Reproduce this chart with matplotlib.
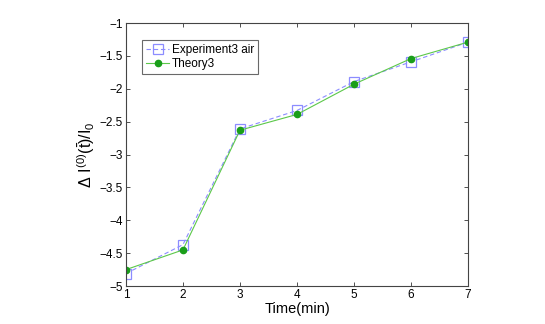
import matplotlib

matplotlib.use("Agg")
import matplotlib.pyplot as plt

plt.rcParams["font.family"] = ["Liberation Sans", "DejaVu Sans"]
plt.rcParams["mathtext.fontset"] = "custom"
plt.rcParams["mathtext.rm"] = "Liberation Sans"
plt.rcParams["mathtext.it"] = "Liberation Sans"

# data
time_min = [1, 2, 3, 4, 5, 6, 7]
experiment3_air = [-4.81, -4.37, -2.61, -2.33, -1.89, -1.59, -1.29]
theory3 = [-4.75, -4.45, -2.63, -2.39, -1.93, -1.54, -1.29]

x_ticks = [1, 2, 3, 4, 5, 6, 7]
y_ticks = [-5, -4.5, -4, -3.5, -3, -2.5, -2, -1.5, -1]
y_tick_labels = ["\u22125", "\u22124.5", "\u22124", "\u22123.5", "\u22123",
                 "\u22122.5", "\u22122", "\u22121.5", "\u22121"]

fig = plt.figure(figsize=(5.45, 3.24), dpi=100)
ax = fig.add_axes([0.231, 0.117, 0.628, 0.812])

ax.plot(
    time_min,
    experiment3_air,
    linestyle="--",
    dashes=(4, 2.5),
    color="#8c8cff",
    linewidth=0.8,
    marker="s",
    markersize=6.5,
    markerfacecolor="none",
    markeredgecolor="#8c8cff",
    markeredgewidth=0.9,
    label="Experiment3 air",
)
ax.plot(
    time_min,
    theory3,
    linestyle="-",
    color="#5cc84a",
    linewidth=0.8,
    marker="o",
    markersize=4.5,
    markerfacecolor="#1a9e1a",
    markeredgecolor="#1a9e1a",
    label="Theory3",
)

ax.set_xlim(1, 7)
ax.set_ylim(-5, -1)
ax.set_xticks(x_ticks)
ax.set_yticks(y_ticks)
ax.set_yticklabels(y_tick_labels)
ax.tick_params(direction="in", top=True, right=True, labelsize=8.5, length=3,
               width=0.6, colors="#333333", labelcolor="black", pad=2)
for spine in ax.spines.values():
    spine.set_linewidth(0.8)
    spine.set_color("#444444")

ax.set_xlabel("Time(min)", fontsize=10.5, labelpad=1)
ax.set_ylabel(r"$\Delta\ I^{(0)}(\bar{t})/I_0$", fontsize=11.5, labelpad=2)

leg = ax.legend(
    loc="upper left",
    bbox_to_anchor=(0.048, 0.935),
    fontsize=8.5,
    frameon=True,
    fancybox=False,
    handlelength=2.0,
    handletextpad=0.2,
    borderpad=0.3,
    labelspacing=0.2,
    borderaxespad=0,
)
leg.get_frame().set_edgecolor("#444444")
leg.get_frame().set_linewidth(0.8)

fig.savefig("out.png", dpi=100)
plt.close(fig)
